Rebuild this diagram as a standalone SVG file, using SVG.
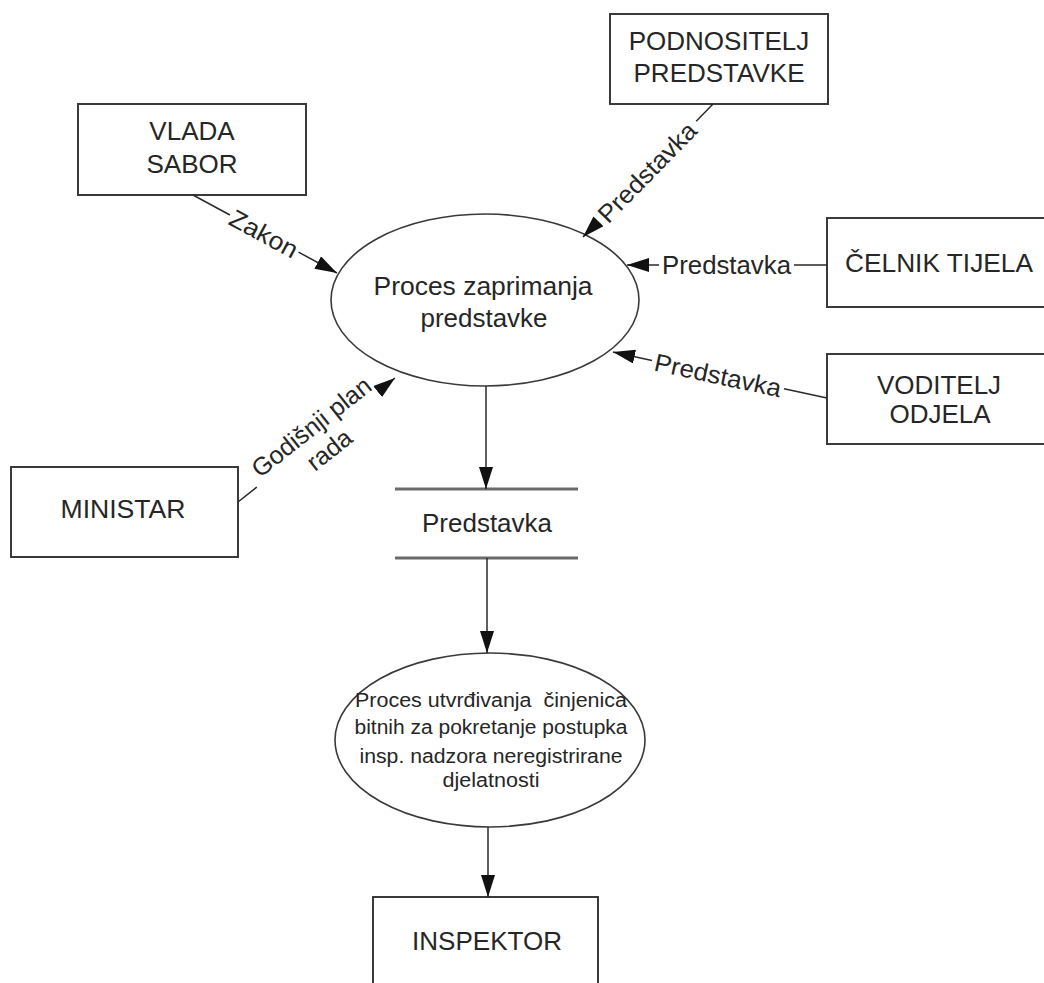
<svg xmlns="http://www.w3.org/2000/svg" width="1044" height="983" viewBox="0 0 1044 983">
<style>
.box{fill:#fff;stroke:#3a3a3a;stroke-width:2}
.ell{fill:#fff;stroke:#3a3a3a;stroke-width:1.6}
.store{stroke:#6a6a6a;stroke-width:3}
.t{font-family:"Liberation Sans",Arial,sans-serif;font-size:26px;fill:#262626;text-anchor:middle}
.lbl{font-family:"Liberation Sans",Arial,sans-serif;font-size:25px;fill:#262626;text-anchor:middle;dominant-baseline:central}
.s{font-family:"Liberation Sans",Arial,sans-serif;font-size:20px;fill:#262626;text-anchor:middle;white-space:pre}
.c{fill:none;stroke:#2a2a2a;stroke-width:1.5;marker-end:url(#ah)}
</style>
<defs>
<marker id="ah" markerUnits="userSpaceOnUse" viewBox="0 0 22 14" refX="22" refY="7" markerWidth="22" markerHeight="14" orient="auto">
<path d="M0,0 L22,7 L0,14 z" fill="#111"/>
</marker>
</defs>
<rect width="1044" height="983" fill="#fff"/>

<g id="podnositelj">
<rect class="box" x="610" y="14" width="218" height="90"/>
<text class="t" x="719" y="50">PODNOSITELJ</text>
<text class="t" x="719" y="82">PREDSTAVKE</text>
</g>
<g id="vlada">
<rect class="box" x="78" y="104" width="228" height="91"/>
<text class="t" x="192" y="140">VLADA</text>
<text class="t" x="192" y="173">SABOR</text>
</g>
<g id="celnik">
<rect class="box" x="827" y="218" width="220" height="89"/>
<text class="t" x="939" y="272" textLength="188" lengthAdjust="spacingAndGlyphs">ČELNIK TIJELA</text>
</g>
<g id="voditelj">
<rect class="box" x="827" y="354" width="220" height="90"/>
<text class="t" x="939" y="394">VODITELJ</text>
<text class="t" x="940" y="423">ODJELA</text>
</g>
<g id="ministar">
<rect class="box" x="11" y="467" width="227" height="90"/>
<text class="t" x="123" y="518" textLength="125" lengthAdjust="spacingAndGlyphs">MINISTAR</text>
</g>
<g id="proces1">
<ellipse class="ell" cx="485" cy="300" rx="154" ry="86"/>
<text class="t" x="483" y="295" textLength="219" lengthAdjust="spacingAndGlyphs">Proces zaprimanja</text>
<text class="t" x="484" y="327" textLength="127" lengthAdjust="spacingAndGlyphs">predstavke</text>
</g>
<g id="store">
<line class="store" x1="395" y1="489" x2="578" y2="489"/>
<line class="store" x1="395" y1="558" x2="578" y2="558"/>
<text class="t" x="487" y="532" textLength="130" lengthAdjust="spacingAndGlyphs">Predstavka</text>
</g>
<g id="proces2">
<ellipse class="ell" cx="490" cy="740" rx="155" ry="87"/>
<text class="s" x="491" y="707" textLength="272" lengthAdjust="spacingAndGlyphs" xml:space="preserve">Proces utvrđivanja  činjenica</text>
<text class="s" x="491" y="734" textLength="273" lengthAdjust="spacingAndGlyphs">bitnih za pokretanje postupka</text>
<text class="s" x="491" y="763" textLength="263" lengthAdjust="spacingAndGlyphs">insp. nadzora neregistrirane</text>
<text class="s" x="491" y="787" textLength="97" lengthAdjust="spacingAndGlyphs">djelatnosti</text>
</g>
<g id="inspektor">
<rect class="box" x="373" y="897" width="225" height="100"/>
<text class="t" x="487" y="950" textLength="150" lengthAdjust="spacingAndGlyphs">INSPEKTOR</text>
</g>

<g id="connectors">
<path class="c" d="M713,104 L696.2,121.2 M597.7,222 L583,237"/>
<path class="c" d="M193,195 L229.9,215 M298.5,252.1 L337,273"/>
<path class="c" d="M827,265 L794,265 M659,265 L627,265"/>
<path class="c" d="M827,398 L784,388.8 M652,360.4 L613,352"/>
<path class="c" d="M238,502 L256.8,487.1 M377.7,391.6 L395,378"/>
<path class="c" d="M486,386 L486,489"/>
<path class="c" d="M487,558 L487,653"/>
<path class="c" d="M488,827 L488,897"/>
<text class="lbl" transform="translate(647,172) rotate(-45.65)" textLength="129" lengthAdjust="spacingAndGlyphs">Predstavka</text>
<text class="lbl" transform="translate(264,233.5) rotate(28.4)" textLength="74" lengthAdjust="spacingAndGlyphs">Zakon</text>
<text class="lbl" x="726.5" y="265" textLength="129" lengthAdjust="spacingAndGlyphs">Predstavka</text>
<text class="lbl" transform="translate(718,375) rotate(12.1)" textLength="129" lengthAdjust="spacingAndGlyphs">Predstavka</text>
<g transform="translate(320,438) rotate(-38.3)">
<text class="lbl" x="0" y="-14.5">Godišnji plan</text>
<text class="lbl" x="0" y="14.5">rada</text>
</g>
</g>
</svg>
